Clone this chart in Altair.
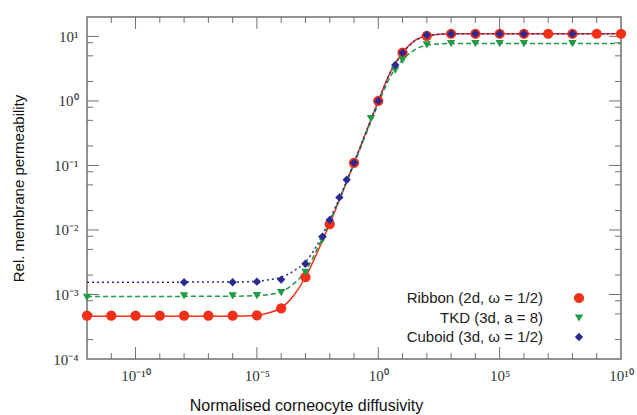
import altair as alt
import pandas as pd

# ---------------- data ----------------
ribbon_x = [1e-12, 1e-11, 1e-10, 1e-9, 1e-8, 1e-7, 1e-6, 1e-5, 1e-4, 1e-3, 1e-2, 1e-1,
            1, 10, 1e2, 1e3, 1e4, 1e5, 1e6, 1e7, 1e8, 1e9, 1e10]
ribbon_y = [4.7e-4, 4.7e-4, 4.7e-4, 4.7e-4, 4.7e-4, 4.7e-4, 4.7e-4, 4.75e-4, 6.1e-4, 1.85e-3,
            0.0123, 0.11, 1.0, 5.6, 10.2, 11, 11, 11, 11, 11, 11, 11, 11]

tkd_x = [1e-12, 1e-8, 1e-6, 1e-5, 1e-4, 1e-3, 5e-3, 0.5, 5, 10, 1e2, 1e3, 1e4, 1e5, 1e6, 1e8]
tkd_y = [9.0e-4, 9.5e-4, 9.5e-4, 9.6e-4, 1.07e-3, 2.2e-3, 7.0e-3, 0.53, 3.0, 4.3, 7.4,
         7.7, 7.7, 7.7, 7.7, 7.7]

cuboid_x = [1e-8, 1e-6, 1e-5, 1e-4, 1e-3, 5e-3, 1e-2, 2.5e-2, 5e-2, 0.1, 1, 5, 10, 1e2,
            1e3, 1e4, 1e5, 1e6, 1e8]
cuboid_y = [1.55e-3, 1.55e-3, 1.58e-3, 1.7e-3, 3.0e-3, 7.9e-3, 0.0143, 0.032, 0.06, 0.11,
            1.0, 3.6, 5.6, 10.5, 11, 11, 11, 11, 11]

curve_x = [1e-12, 1e-6, 1e-5, 3.16e-5, 1e-4, 3.16e-4, 1e-3, 3.16e-3, 1e-2, 3.16e-2, 0.1,
           0.316, 1, 3.16, 10, 31.6, 100, 316, 1e3, 1e10]
ribbon_curve = [4.6e-4, 4.6e-4, 4.75e-4, 5.2e-4, 6.2e-4, 9.5e-4, 1.85e-3, 4.6e-3, 0.0125,
                0.036, 0.11, 0.33, 1.0, 2.8, 5.6, 8.6, 10.2, 10.8, 11, 11]
tkd_curve = [9.3e-4, 9.4e-4, 9.6e-4, 1.0e-3, 1.1e-3, 1.45e-3, 2.3e-3, 5.2e-3, 0.0135,
             0.037, 0.105, 0.31, 0.9, 2.4, 4.3, 6.2, 7.3, 7.65, 7.75, 7.8]
cuboid_curve = [1.55e-3, 1.56e-3, 1.6e-3, 1.7e-3, 1.85e-3, 2.3e-3, 3.2e-3, 6.0e-3, 0.0145,
                0.038, 0.11, 0.33, 0.98, 2.8, 5.5, 8.5, 10.1, 10.8, 11, 11]

legend_labels = ["Ribbon (2d, \u03c9 = 1/2)", "TKD (3d, a = 8)", "Cuboid (3d, \u03c9 = 1/2)"]

x_major = [1e-10, 1e-5, 1, 1e5]
x_minor = [1e-11, 1e-9, 1e-8, 1e-7, 1e-6, 1e-4, 1e-3, 1e-2, 1e-1, 10, 1e2, 1e3, 1e4,
           1e6, 1e7, 1e8, 1e9]
y_major = [1e-3, 1e-2, 1e-1, 1, 10]
y_minor = [2e-4, 5e-4, 8e-4, 2e-3, 5e-3, 8e-3, 2e-2, 5e-2, 8e-2, 0.2, 0.5, 0.8,
           2, 5, 8]

# ---------------- styling ----------------
W, H = 534, 342
RED, GREEN, BLUE = "#f2301a", "#1f9a45", "#2a2a90"
FRAME = "#707070"

xs = alt.Scale(type="log", domain=[1e-12, 1e10], nice=False)
ys = alt.Scale(type="log", domain=[1e-4, 20], nice=False)

x_label_expr = ("datum.value < 1e-7 ? '10\u207b\u00b9\u2070' : datum.value < 1e-2 ? '10\u207b\u2075' : "
                "datum.value < 10 ? '10\u2070' : datum.value < 1e7 ? '10\u2075' : '10\u00b9\u2070'")
y_label_expr = ("datum.value < 3e-4 ? '10\u207b\u2074' : datum.value < 3e-3 ? '10\u207b\u00b3' : "
                "datum.value < 3e-2 ? '10\u207b\u00b2' : datum.value < 0.3 ? '10\u207b\u00b9' : "
                "datum.value < 3 ? '10\u2070' : '10\u00b9'")

x_axis = alt.Axis(values=[1e-10, 1e-5, 1, 1e5, 1e10], labelExpr=x_label_expr, ticks=False,
                  domain=False, grid=False, labelFont="Liberation Serif", labelFontSize=15,
                  labelColor="#333333", labelPadding=9, labelFlush=False,
                  title="Normalised corneocyte diffusivity", titleFont="Liberation Sans",
                  titleFontSize=16, titleFontWeight="normal", titleColor="#111111",
                  titleX=219, titleY=46, titleBaseline="middle", titleAlign="center")
y_axis = alt.Axis(values=[1e-4, 1e-3, 1e-2, 1e-1, 1, 10], labelExpr=y_label_expr, ticks=False,
                  domain=False, grid=False, labelFont="Liberation Serif", labelFontSize=15,
                  labelColor="#333333", labelPadding=9, labelFlush=False,
                  title="Rel. membrane permeability", titleFont="Liberation Sans",
                  titleFontSize=15, titleFontWeight="normal", titleColor="#111111",
                  titleX=-69, titleY=171, titleBaseline="middle", titleAlign="center",
                  titleAngle=270)


def curve(ys_vals, color, dash, axes=False):
    df = pd.DataFrame({"x": curve_x, "y": ys_vals})
    if axes:
        enc_x = alt.X("x:Q", scale=xs, axis=x_axis)
        enc_y = alt.Y("y:Q", scale=ys, axis=y_axis)
    else:
        enc_x = alt.X("x:Q", scale=xs)
        enc_y = alt.Y("y:Q", scale=ys)
    mk = dict(color=color, strokeWidth=1.5, interpolate="monotone", clip=False)
    if dash:
        mk["strokeDash"] = dash
    return alt.Chart(df).mark_line(**mk).encode(x=enc_x, y=enc_y)


def points(xv, yv, color, shape, size):
    df = pd.DataFrame({"x": xv, "y": yv})
    return alt.Chart(df).mark_point(filled=True, shape=shape, size=size, color=color,
                                    opacity=1).encode(
        x=alt.X("x:Q", scale=xs), y=alt.Y("y:Q", scale=ys))


def xticks(vals, length):
    df = pd.DataFrame({"v": vals})
    base = alt.Chart(df).mark_rule(color=FRAME, strokeWidth=1)
    bottom = base.encode(x=alt.X("v:Q", scale=xs), y=alt.value(H), y2=alt.value(H - length))
    top = base.encode(x=alt.X("v:Q", scale=xs), y=alt.value(0), y2=alt.value(length))
    return [bottom, top]


def yticks(vals, length):
    df = pd.DataFrame({"v": vals})
    base = alt.Chart(df).mark_rule(color=FRAME, strokeWidth=1)
    left = base.encode(y=alt.Y("v:Q", scale=ys), x=alt.value(0), x2=alt.value(length))
    right = base.encode(y=alt.Y("v:Q", scale=ys), x=alt.value(W), x2=alt.value(W - length))
    return [left, right]


layers = [curve(ribbon_curve, RED, None, axes=True)]
layers += xticks(x_major, 12) + xticks(x_minor, 6) + yticks(y_major, 12) + yticks(y_minor, 6)
layers += [
    curve(tkd_curve, GREEN, [5, 3]),
    curve(cuboid_curve, BLUE, [2, 3]),
    points(ribbon_x, ribbon_y, RED, "circle", 105),
    points(tkd_x, tkd_y, GREEN, "triangle-down", 70),
    points(cuboid_x, cuboid_y, BLUE, "diamond", 70),
]

# legend (drawn inside the plot, symbols to the right of the labels)
legend_colors = [RED, GREEN, BLUE]
legend_shapes = ["circle", "triangle-down", "diamond"]
legend_sizes = [105, 70, 70]
legend_rows = [281, 301, 320]
for lab, col, shp, sz, ry in zip(legend_labels, legend_colors, legend_shapes, legend_sizes, legend_rows):
    d = pd.DataFrame({"label": [lab]})
    layers.append(alt.Chart(d).mark_text(align="right", baseline="middle", font="Liberation Sans",
                                         fontSize=15, color="#222222").encode(
        text="label:N", x=alt.value(456), y=alt.value(ry)))
    layers.append(alt.Chart(d).mark_point(filled=True, shape=shp, size=sz, color=col, opacity=1).encode(
        x=alt.value(492), y=alt.value(ry)))

chart = alt.layer(*layers).properties(
    width=W, height=H,
    autosize=alt.AutoSizeParams(type="none"),
    padding={"left": 87, "top": 17, "right": 16, "bottom": 56},
    background="white",
).configure_view(stroke=FRAME, strokeWidth=1.5)

chart.save("out.html", embed_options={"renderer": "svg", "actions": False})
